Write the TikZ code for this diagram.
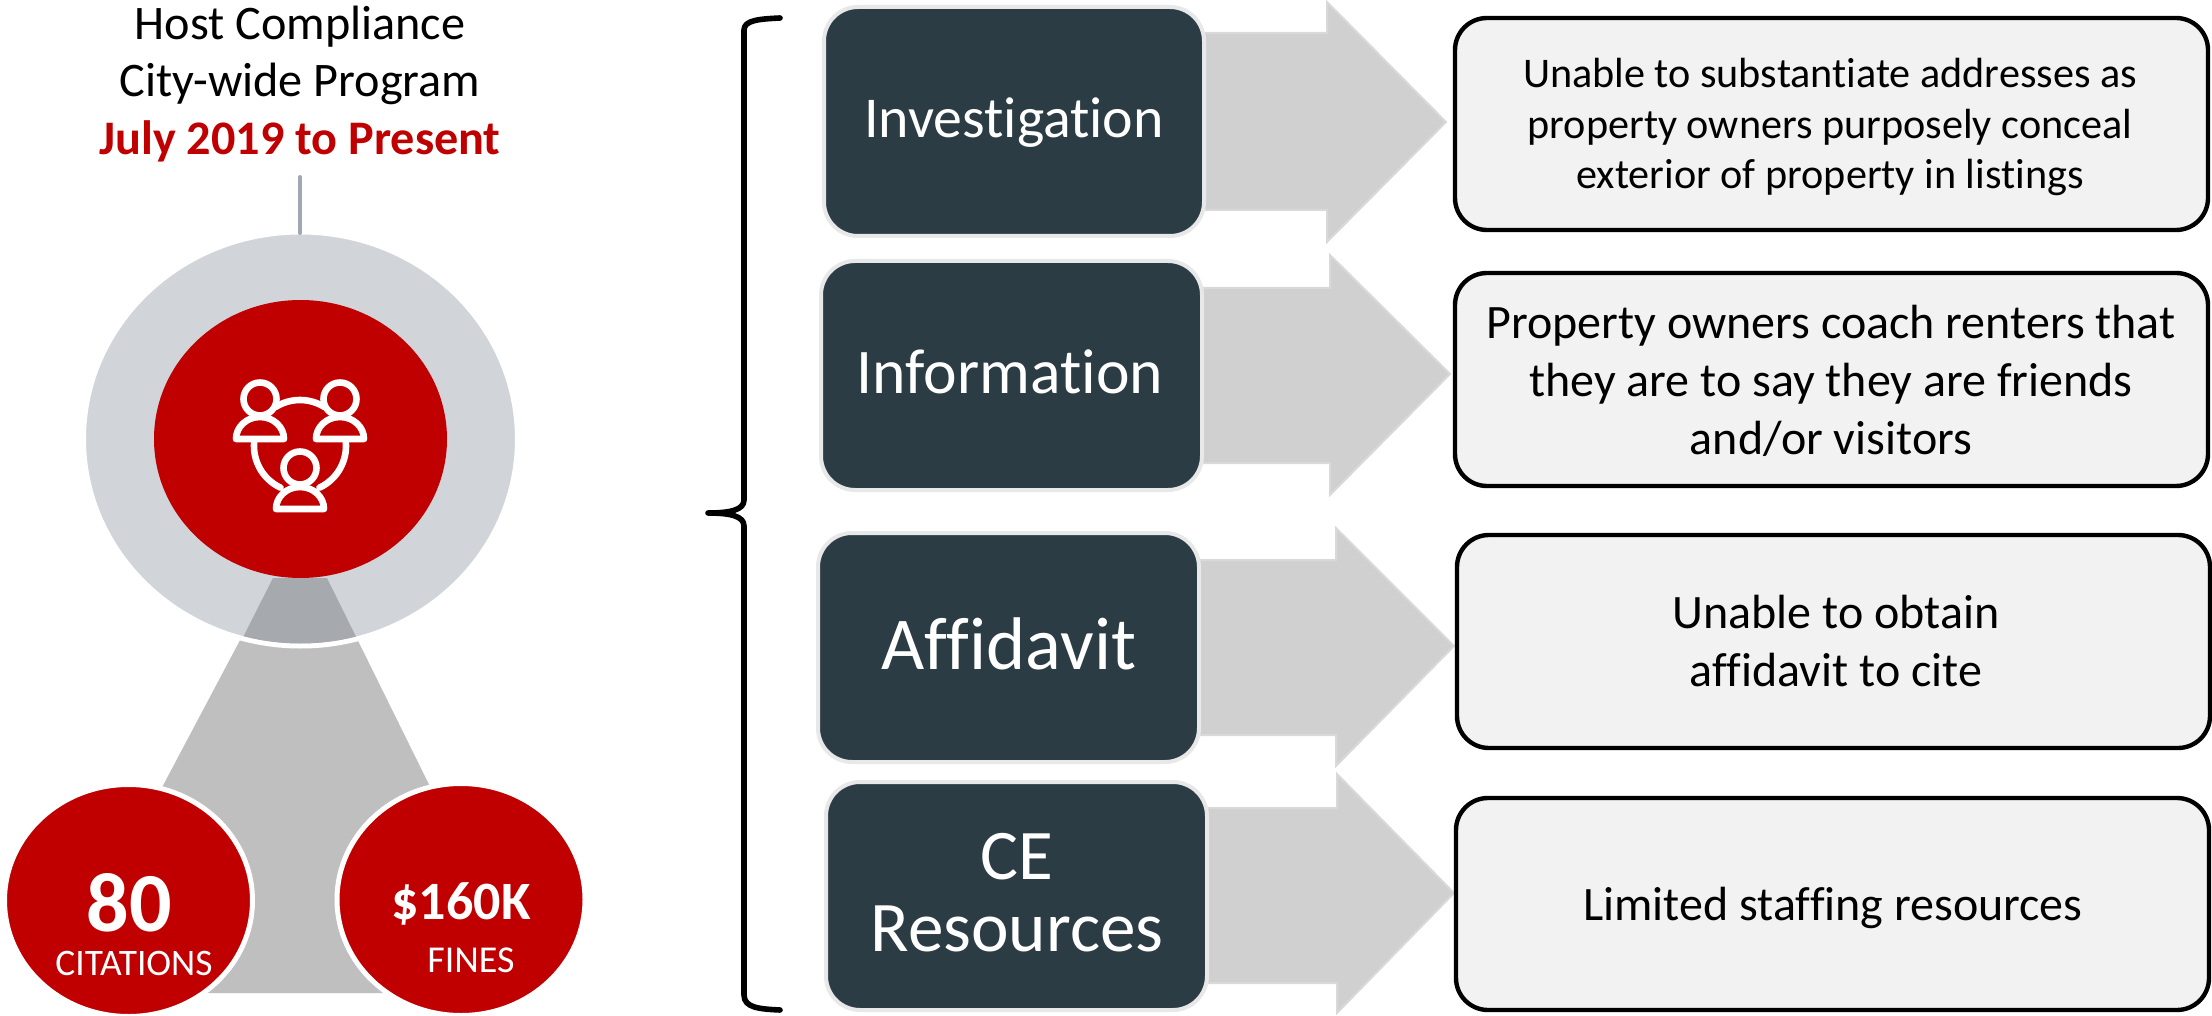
\documentclass[tikz,border=0pt]{standalone}
\usepackage{fontspec}
\setmainfont{Carlito}[Ligatures={NoCommon,NoDiscretionary,NoContextual}]
\definecolor{crimson}{HTML}{C00000}
\definecolor{slatebox}{HTML}{2C3C44}
\definecolor{ringgrey}{HTML}{D1D5DA}
\definecolor{wedgegrey}{HTML}{BFBFBF}
\definecolor{wedgedark}{HTML}{A6A9AD}
\definecolor{arrowgrey}{HTML}{D0D0D0}
\definecolor{arrowedge}{HTML}{D9D9D9}
\definecolor{notefill}{HTML}{F2F2F2}
\definecolor{boxedge}{HTML}{E8E8E8}
\definecolor{stemgrey}{HTML}{A0A9B3}
\tikzset{
 every node/.style={inner sep=0pt,outer sep=0pt,align=center},
 stagebox/.style={draw=boxedge,line width=2pt,fill=slatebox,rounded corners=17pt,anchor=north west},
 stagetext/.style={text=white},
 notebox/.style={draw=black,line width=2.2pt,fill=notefill,rounded corners=16pt,anchor=north west},
 notetext/.style={text=black},
 bigarrow/.style={fill=arrowgrey,draw=arrowedge,line width=1pt},
 redball/.style={fill=crimson,draw=white,line width=2.5pt},
 iconline/.style={draw=white,line width=3.3pt,line join=round,line cap=round},
 notefont/.style={font=\fontsize{21.1}{25.3}\selectfont},
 notefontb/.style={font=\fontsize{24}{29}\selectfont},
}
\begin{document}
\begin{tikzpicture}[x=0.5pt,y=-0.5pt]
\useasboundingbox (0,0) rectangle (2212,1016);
% title
\node (title) at (300,84) [font=\fontsize{24.1}{28.6}\selectfont,text=black] {Host Compliance\\City-wide Program\\\textcolor{crimson}{\textbf{July 2019 to Present}}};
% wedge
\fill[wedgegrey] (273,578) -- (327,578) -- (532,993) -- (53,993) -- cycle;
\draw[fill=ringgrey,draw=white,line width=2.5pt] (300.5,439) ellipse [x radius=217,y radius=207];
\begin{scope}
\clip (300.5,439) ellipse [x radius=214.5,y radius=204.5];
\fill[wedgedark] (273,578) -- (327,578) -- (367,659) -- (233,657) -- cycle;
\end{scope}
\fill[crimson] (300.5,439) ellipse [x radius=146.5,y radius=139];
\coordinate (stemtop) at (300,177);
\coordinate (stemend) at (300,233);
\draw[stemgrey,line width=2pt,line cap=round] (stemtop) -- (stemend);
% icon
\begin{scope}[shift={(220,530)},x=0.5pt,y=0.5pt]
\draw[iconline] (40,131) circle [radius=16.5];
\draw[iconline] (120,131) circle [radius=16.5];
\draw[iconline] (80,62) circle [radius=16.5];
\draw[iconline] (16,91) -- (64,91) arc[start angle=0,end angle=180,x radius=24,y radius=22] -- cycle;
\draw[iconline] (96,91) -- (144,91) arc[start angle=0,end angle=180,x radius=24,y radius=22] -- cycle;
\draw[iconline] (56,21) -- (104,21) arc[start angle=0,end angle=180,x radius=24,y radius=22] -- cycle;
\draw[iconline] (80,84) ++(58:46) arc[start angle=58,end angle=122,radius=46];
\draw[iconline] (80,84) ++(175:46) arc[start angle=175,end angle=245,radius=46];
\draw[iconline] (80,84) ++(295:46) arc[start angle=295,end angle=365,radius=46];
\end{scope}
% red balls
\draw[redball] (128.5,900.5) ellipse [x radius=124,y radius=116];
\draw[redball] (461,899.5) ellipse [x radius=124,y radius=116];
\node (c80) at (129,903) [text=white,font=\fontsize{42}{42}\selectfont\bfseries] {80};
\node (ccit) at (134,963) [text=white,font=\fontsize{18.7}{18.7}\selectfont] {CITATIONS};
\node (c160) at (461,904) [text=white,font=\fontsize{27}{27}\selectfont\bfseries] {\$160K};
\node (cfin) at (471,960) [text=white,font=\fontsize{19}{19}\selectfont] {FINES};
% brace
\draw[black,line width=2.8pt,line cap=round,line join=round] (780,18) .. controls (760,19) and (744,20) .. (744,30) -- (744,500) .. controls (744,510) and (730,513) .. (708,513) .. controls (730,513) and (744,516) .. (744,526) -- (744,995) .. controls (744,1008) and (760,1009) .. (780,1010);
% arrows
\fill[bigarrow] (1195,33) -- (1327,33) -- (1327,2) -- (1446,122) -- (1327,242) -- (1327,210) -- (1195,210) -- cycle;
\fill[bigarrow] (1195,288) -- (1330,288) -- (1330,255) -- (1450,374) -- (1330,495) -- (1330,463) -- (1195,463) -- cycle;
\fill[bigarrow] (1190,560) -- (1336,560) -- (1336,528) -- (1454,646) -- (1336,766) -- (1336,735) -- (1190,735) -- cycle;
\fill[bigarrow] (1200,808) -- (1337,808) -- (1337,774) -- (1454,893) -- (1337,1013) -- (1337,983) -- (1200,983) -- cycle;
% stage boxes
\node (s1) at (824,7) [stagebox,minimum width=190pt,minimum height=114.5pt] {};
\node (s1t) at (1014,123) [stagetext,font=\fontsize{28.9}{34}\selectfont] {Investigation};
\node (s2) at (821,261) [stagebox,minimum width=190.5pt,minimum height=114.5pt] {};
\node (s2t) at (1010,372) [stagetext,font=\fontsize{31.8}{36}\selectfont] {Information};
\node (s3) at (818,533) [stagebox,minimum width=190.5pt,minimum height=114.5pt] {};
\node (s3t) at (1009,644) [stagetext,font=\fontsize{37.3}{42}\selectfont] {Affidavit};
\node (s4) at (826,782) [stagebox,minimum width=190.5pt,minimum height=114pt] {};
\node (s4t) at (1017,893) [stagetext,font=\fontsize{35.6}{36}\selectfont] {CE\\Resources};
% notes
\node (n1) at (1455,18) [notebox,minimum width=376.5pt,minimum height=106pt] {};
\node (n1t) at (1830,127) [notetext,notefont] {Unable to substantiate addresses as\\property owners purposely conceal\\exterior of property in listings};
\node (n2) at (1455,273) [notebox,minimum width=376.5pt,minimum height=106.5pt] {};
\node (n2t) at (1831,381) [notetext,notefontb] {Property owners coach renters that\\they are to say they are friends\\and/or visitors};
\node (n3) at (1457,535) [notebox,minimum width=376.5pt,minimum height=106.5pt] {};
\node (n3t) at (1836,641) [notetext,notefontb] {Unable to obtain\\affidavit to cite};
\node (n4) at (1456,798) [notebox,minimum width=376.5pt,minimum height=106pt] {};
\node (n4t) at (1833,908) [notetext,notefontb] {Limited staffing resources};
\end{tikzpicture}
\end{document}
